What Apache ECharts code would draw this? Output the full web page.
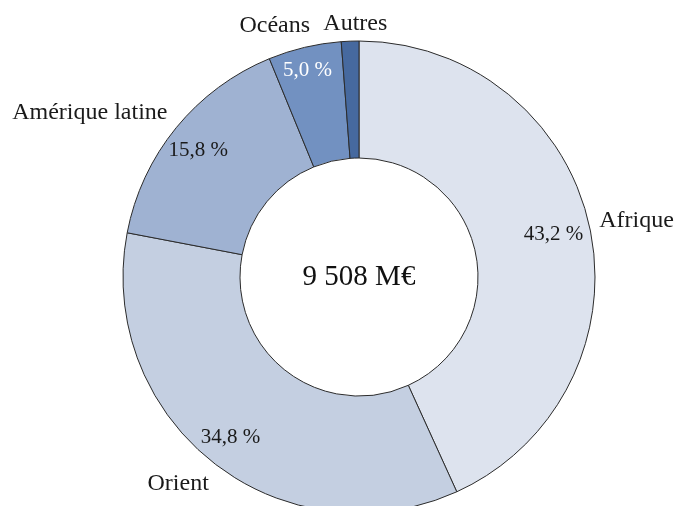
<!DOCTYPE html>
<html>
<head>
<meta charset="utf-8">
<script src="https://cdn.jsdelivr.net/npm/echarts@6/dist/echarts.min.js"></script>
<style>
  html, body { margin: 0; padding: 0; background: #fff; }
  #main { width: 675px; height: 506px; }
</style>
</head>
<body>
<div id="main"></div>
<script>
// parts of the total, in %
var regions = ['Afrique', 'Orient', 'Amérique latine', 'Océans', 'Autres'];
var shares = [43.2, 34.8, 15.8, 5.0, 1.2];
var sliceColors = ['#dde3ee', '#c4cfe1', '#9fb2d2', '#7291c1', '#46699f'];
var totalLabel = '9 508 M€';

// small nudges for the labels (dx, dy)
var pctShift = [[18, -4], [-17, 19], [-21, -12], [-10, -31], [0, 0]];
var nameShift = [[1, 4], [-6, -16], [-50, 15], [-19, 24], [7, 30]];

var FONT = '"Liberation Serif", "Times New Roman", serif';
var CENTER = [359, 277];

var chart = echarts.init(document.getElementById('main'));

var ringData = regions.map(function (n, i) {
  return {
    name: n,
    value: shares[i],
    itemStyle: { color: sliceColors[i] },
    label: { color: i == 3 ? '#ffffff' : '#1a1a1a' }
  };
});

var option = {
  animation: false,
  series: [
    {
      type: 'pie',
      center: CENTER,
      radius: [119, 236],
      startAngle: 90,
      clockwise: true,
      avoidLabelOverlap: false,
      itemStyle: { borderColor: '#2b2b2b', borderWidth: 1 },
      emphasis: { disabled: true },
      label: {
        position: 'inside',
        fontFamily: FONT,
        fontSize: 21,
        formatter: function (p) {
          if (p.dataIndex == 4) return '';
          return p.value.toFixed(1).replace('.', ',') + ' %';
        }
      },
      labelLayout: function (p) {
        var s = pctShift[p.dataIndex];
        return { dx: s[0], dy: s[1] };
      },
      data: ringData
    },
    {
      // invisible ring used only to place the region names
      type: 'pie',
      center: CENTER,
      radius: [260, 300],
      startAngle: 90,
      clockwise: true,
      silent: true,
      avoidLabelOverlap: false,
      itemStyle: { color: 'rgba(0,0,0,0)' },
      emphasis: { disabled: true },
      label: {
        position: 'inside',
        fontFamily: FONT,
        fontSize: 24,
        color: '#1a1a1a',
        formatter: '{b}'
      },
      labelLayout: function (p) {
        var s = nameShift[p.dataIndex];
        return { dx: s[0], dy: s[1] };
      },
      data: regions.map(function (n, i) { return { name: n, value: shares[i] }; })
    }
  ],
  graphic: [{
    type: 'text',
    x: CENTER[0],
    y: CENTER[1],
    style: {
      text: totalLabel,
      fontFamily: FONT,
      fontSize: 29,
      fill: '#111',
      align: 'center',
      verticalAlign: 'middle'
    }
  }]
};
chart.setOption(option);
</script>
</body>
</html>
